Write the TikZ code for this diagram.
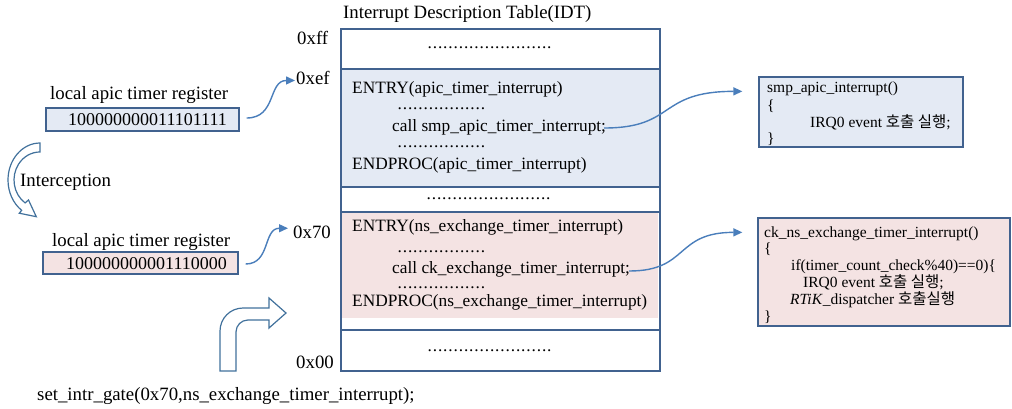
\documentclass[tikz,border=0pt]{standalone}
\usepackage{fontspec}
\setmainfont{Liberation Serif}
\newfontfamily\kr{Noto Sans CJK KR}
\usetikzlibrary{arrows.meta}
\definecolor{idtline}{HTML}{41628F}
\definecolor{bluefill}{HTML}{E4EAF4}
\definecolor{pinkfill}{HTML}{F4E3E3}
\definecolor{arrowblue}{HTML}{4A7EBB}
\definecolor{blockline}{HTML}{41719C}
\newcommand\dotrow[1]{\makebox[#1][l]{\leaders\hbox to 5.2pt{\hss.\hss}\hfill}}
\begin{document}
\begin{tikzpicture}[x=1pt,y=1pt,
 big/.style={font=\fontsize{18.8}{22}\selectfont, inner sep=0pt, anchor=base west},
 bin/.style={font=\fontsize{18}{22}\selectfont, inner sep=0pt, anchor=base west},
 idt/.style={font=\fontsize{17.3}{20}\selectfont, inner sep=0pt, anchor=base west},
 code/.style={font=\fontsize{15.5}{18}\selectfont, inner sep=0pt, anchor=base west},
 rowbox/.style={draw=idtline, line width=1.3pt, rectangle, inner sep=0pt, minimum width=319pt},
 regbox/.style={draw=idtline, line width=1.3pt, rectangle, inner sep=0pt},
 conn/.style={draw=arrowblue, line width=1.4pt, -{Triangle[length=9pt,width=8pt]}},
 blockarrow/.style={draw=blockline, line width=1.2pt, fill=white, line join=miter}]
\useasboundingbox (0,0) rectangle (1012,-408);

% title
\node[big] (title) at (343,-18) {Interrupt Description Table(IDT)};

% IDT rows
\fill[pinkfill] (341,-212) rectangle (658,-318);
\node[rowbox, minimum height=40pt] (r1) at (500.5,-49) {};
\node[rowbox, fill=bluefill, minimum height=118pt] (r2) at (500.5,-128) {};
\node[rowbox, minimum height=25pt] (r3) at (500.5,-199.5) {};
\node[rowbox, minimum height=118pt] (r4) at (500.5,-271) {};
\node[rowbox, minimum height=41pt] (r5) at (500.5,-350.5) {};

\node[idt] (d1) at (427,-48) {\dotrow{127pt}};
\node[idt] (d3) at (426,-199) {\dotrow{127pt}};
\node[idt] (d5) at (427,-351) {\dotrow{127pt}};

\node[idt] (entA) at (352,-93) {ENTRY(apic\_timer\_interrupt)};
\node[idt] (dA1) at (397,-109) {\dotrow{93pt}};
\node[idt] (callA) at (392,-131) {call smp\_apic\_timer\_interrupt;};
\node[idt] (dA2) at (397,-147) {\dotrow{93pt}};
\node[idt] (endA) at (352,-169) {ENDPROC(apic\_timer\_interrupt)};

\node[idt] (entB) at (352,-231) {ENTRY(ns\_exchange\_timer\_interrupt)};
\node[idt] (dB1) at (397,-252) {\dotrow{93pt}};
\node[idt] (callB) at (392,-273) {call ck\_exchange\_timer\_interrupt;};
\node[idt] (dB2) at (397,-288) {\dotrow{93pt}};
\node[idt] (endB) at (352,-306) {ENDPROC(ns\_exchange\_timer\_interrupt)};

% address labels
\node[big] (ffl) at (297,-44) {0xff};
\node[big] (efl) at (296,-84) {0xef};
\node[big] (sevl) at (293,-238) {0x70};
\node[big] (zerol) at (296,-368) {0x00};

% registers
\node[big] (labA) at (50,-99) {local apic timer register};
\node[regbox, fill=bluefill, minimum width=193pt, minimum height=23pt] (regA) at (142.5,-119.5) {};
\node[bin] (binA) at (68,-125.5) {100000000011101111};
\node[big] (labB) at (52,-246) {local apic timer register};
\node[regbox, fill=pinkfill, minimum width=195pt, minimum height=22pt] (regB) at (140.5,-263) {};
\node[bin] (binB) at (66,-269) {100000000001110000};

\node[big] (intc) at (20,-186) {Interception};
\node[big] (setg) at (37,-400) {set\_intr\_gate(0x70,ns\_exchange\_timer\_interrupt);};

% block arrows
\draw[blockarrow] (40,-143) arc[start angle=90, end angle=235, x radius=32pt, y radius=37pt]
  -- (19.3,-213.2) -- (36.3,-216.7) -- (28.5,-200) -- (25.1,-202.9)
  arc[start angle=235, end angle=90, x radius=26pt, y radius=28pt] -- cycle;
\draw[blockarrow] (220,-371) -- (220,-331) arc[start angle=180, end angle=90, radius=23pt]
  -- (269,-308) -- (269,-298) -- (286,-313) -- (269,-328) -- (269,-320) -- (248,-320)
  arc[start angle=90, end angle=180, radius=12pt] -- (236,-371) -- cycle;

% right boxes
\node[regbox, fill=bluefill, minimum width=204pt, minimum height=70pt] (smp) at (861,-112) {};
\node[code] (s1) at (767,-92) {smp\_apic\_interrupt()};
\node[code] (s2) at (767,-110) {\{};
\node[code] (s3) at (810,-127) {IRQ0 event {\kr 호출 실행};};
\node[code] (s4) at (767,-143) {\}};

\node[regbox, fill=pinkfill, minimum width=252pt, minimum height=108pt] (ck) at (884,-272) {};
\node[code] (c1) at (764,-237) {ck\_ns\_exchange\_timer\_interrupt()};
\node[code] (c2) at (764,-253) {\{};
\node[code] (c3) at (791,-270) {if(timer\_count\_check\%40)==0)\{};
\node[code] (c4) at (803,-287) {IRQ0 event {\kr 호출 실행};};
\node[code] (c5) at (790,-304) {\textit{RTiK}\_dispatcher {\kr 호출실행}};
\node[code] (c6) at (764,-321) {\}};

% connectors
\draw[conn] ([xshift=7pt,yshift=1.5pt]regA.east) .. controls +(30,0) and +(-27,0) .. ([xshift=-1pt,yshift=-3pt]efl.west);
\draw[conn] ([xshift=7pt,yshift=-1pt]regB.east) .. controls +(25,0) and +(-25,0) .. ([xshift=-5pt,yshift=3.6pt]sevl.west);
\draw[conn] ([xshift=-2pt,yshift=3pt]callA.base east) .. controls +(72,0) and +(-85,0) .. ([xshift=-16pt,yshift=-15pt]smp.north west);
\draw[conn] ([xshift=-1pt,yshift=2pt]callB.base east) .. controls +(60,0) and +(-68,0) .. ([xshift=-15pt,yshift=-15pt]ck.north west);
\end{tikzpicture}
\end{document}
